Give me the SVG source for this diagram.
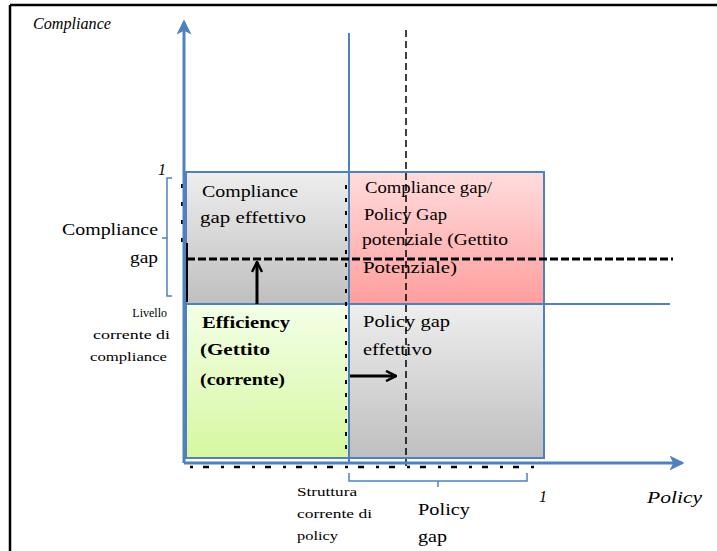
<svg xmlns="http://www.w3.org/2000/svg" width="717" height="551" viewBox="0 0 717 551">
<defs>
<linearGradient id="gGray" x1="0" y1="0" x2="0" y2="1"><stop offset="0" stop-color="#eeeeee"/><stop offset="1" stop-color="#bfbfbf"/></linearGradient>
<linearGradient id="gPink" x1="0" y1="0" x2="0" y2="1"><stop offset="0" stop-color="#ffdcdc"/><stop offset="1" stop-color="#ff9e9e"/></linearGradient>
<linearGradient id="gGreen" x1="0" y1="0" x2="0" y2="1"><stop offset="0" stop-color="#f4ffe8"/><stop offset="1" stop-color="#d6f7a0"/></linearGradient>
<marker id="blueHead" viewBox="0 0 12 12" refX="10" refY="6" markerWidth="5" markerHeight="5" orient="auto" markerUnits="strokeWidth">
<path d="M0,0 L12,6 L0,12 L3,6 Z" fill="#4f81bd"/>
</marker>
<marker id="blackHead" viewBox="0 0 12 12" refX="11" refY="6" markerWidth="4" markerHeight="4" orient="auto" markerUnits="strokeWidth">
<path d="M1,1 L11,6 L1,11" fill="none" stroke="#000" stroke-width="2.5"/>
</marker>
</defs>
<style>
.lbl{font-size:17px}
.sm{font-size:12px}
.it{font-style:italic}
.b{font-weight:bold}
.quad{stroke:#4f81bd;stroke-width:2}
.blue{stroke:#4f81bd;fill:none}
</style>
<rect width="717" height="551" fill="#fff"/>
<g id="page-frame" stroke="#000" stroke-width="2.5" fill="none">
<line x1="10" y1="5" x2="717" y2="5"/>
<line x1="10" y1="5" x2="10" y2="551"/>
</g>
<g id="quad-compliance-gap-effettivo" font-family="Liberation Serif">
<rect class="quad" x="186" y="172" width="163" height="132" fill="url(#gGray)"/>
<text class="lbl" x="202" y="197" textLength="96" lengthAdjust="spacingAndGlyphs">Compliance</text>
<text class="lbl" x="200" y="223" textLength="106" lengthAdjust="spacingAndGlyphs">gap effettivo</text>
</g>
<g id="quad-potenziale" font-family="Liberation Serif">
<rect class="quad" x="349" y="172" width="195" height="132" fill="url(#gPink)"/>
<text class="lbl" x="365" y="193" textLength="127" lengthAdjust="spacingAndGlyphs">Compliance gap/</text>
<text class="lbl" x="364" y="220" textLength="83" lengthAdjust="spacingAndGlyphs">Policy Gap</text>
<text class="lbl" x="362" y="245" textLength="146" lengthAdjust="spacingAndGlyphs">potenziale (Gettito</text>
<text class="lbl" x="363" y="273" textLength="94" lengthAdjust="spacingAndGlyphs">Potenziale)</text>
</g>
<g id="quad-efficiency" font-family="Liberation Serif">
<rect class="quad" x="186" y="304" width="163" height="154" fill="url(#gGreen)"/>
<text class="lbl b" x="202" y="328" textLength="88" lengthAdjust="spacingAndGlyphs">Efficiency</text>
<text class="lbl b" x="200" y="355" textLength="70" lengthAdjust="spacingAndGlyphs">(Gettito</text>
<text class="lbl b" x="200" y="385" textLength="85" lengthAdjust="spacingAndGlyphs">(corrente)</text>
</g>
<g id="quad-policy-gap-effettivo" font-family="Liberation Serif">
<rect class="quad" x="349" y="304" width="195" height="154" fill="url(#gGray)"/>
<text class="lbl" x="363" y="327" textLength="87" lengthAdjust="spacingAndGlyphs">Policy gap</text>
<text class="lbl" x="363" y="355" textLength="69" lengthAdjust="spacingAndGlyphs">effettivo</text>
</g>
<g id="connectors">
<line class="blue" x1="349" y1="33" x2="349" y2="462" stroke-width="2"/>
<line class="blue" x1="544" y1="304" x2="670" y2="304" stroke-width="2"/>
<line x1="406" y1="30" x2="406" y2="466" stroke="#000" stroke-width="1.5" stroke-dasharray="7 4"/>
<line x1="187" y1="259" x2="673" y2="259" stroke="#000" stroke-width="3" stroke-dasharray="8 3"/>
<line x1="187" y1="243" x2="187" y2="302" stroke="#000" stroke-width="2"/>
<line x1="346" y1="185" x2="346" y2="458" stroke="#000" stroke-width="2" stroke-dasharray="4 9"/>
<line x1="182" y1="184" x2="182" y2="242" stroke="#000" stroke-width="2" stroke-dasharray="4 14"/>
<line x1="190" y1="467" x2="536" y2="467" stroke="#000" stroke-width="2.5" stroke-dasharray="3 10 6 12"/>
<line class="blue" x1="184" y1="463" x2="184" y2="22" stroke-width="3" marker-end="url(#blueHead)"/>
<line class="blue" x1="184" y1="463" x2="682" y2="463" stroke-width="3" marker-end="url(#blueHead)"/>
<line x1="257" y1="304" x2="257" y2="262" stroke="#000" stroke-width="3" marker-end="url(#blackHead)"/>
<line x1="350" y1="376" x2="396" y2="376" stroke="#000" stroke-width="3" marker-end="url(#blackHead)"/>
<path class="blue" stroke-width="1.5" d="M172,178 H167 V296 H172 M167,238 H162"/>
<path class="blue" stroke-width="1.5" d="M349,473 V481 H527 V473 M438,481 V487"/>
</g>
<g id="axis-labels" font-family="Liberation Serif">
<text class="it" x="33" y="29" font-size="16" textLength="78" lengthAdjust="spacingAndGlyphs">Compliance</text>
<text class="it" x="158" y="175" font-size="16">1</text>
<text class="lbl" x="62" y="235" textLength="96" lengthAdjust="spacingAndGlyphs">Compliance</text>
<text class="lbl" x="130" y="263" textLength="28" lengthAdjust="spacingAndGlyphs">gap</text>
<text class="sm" x="167" y="317" text-anchor="end">Livello</text>
<text class="sm" x="170" y="339" text-anchor="end" textLength="77" lengthAdjust="spacingAndGlyphs">corrente di</text>
<text class="sm" x="167" y="361" text-anchor="end" textLength="77" lengthAdjust="spacingAndGlyphs">compliance</text>
<text class="sm" x="297" y="496" textLength="60" lengthAdjust="spacingAndGlyphs">Struttura</text>
<text class="sm" x="297" y="518" textLength="75" lengthAdjust="spacingAndGlyphs">corrente di</text>
<text class="sm" x="297" y="540" textLength="41" lengthAdjust="spacingAndGlyphs">policy</text>
<text class="lbl" x="418" y="515" textLength="52" lengthAdjust="spacingAndGlyphs">Policy</text>
<text class="lbl" x="418" y="542" textLength="29" lengthAdjust="spacingAndGlyphs">gap</text>
<text class="it" x="539" y="502" font-size="16">1</text>
<text class="it" x="647" y="503" font-size="16" textLength="55" lengthAdjust="spacingAndGlyphs">Policy</text>
</g>
</svg>
